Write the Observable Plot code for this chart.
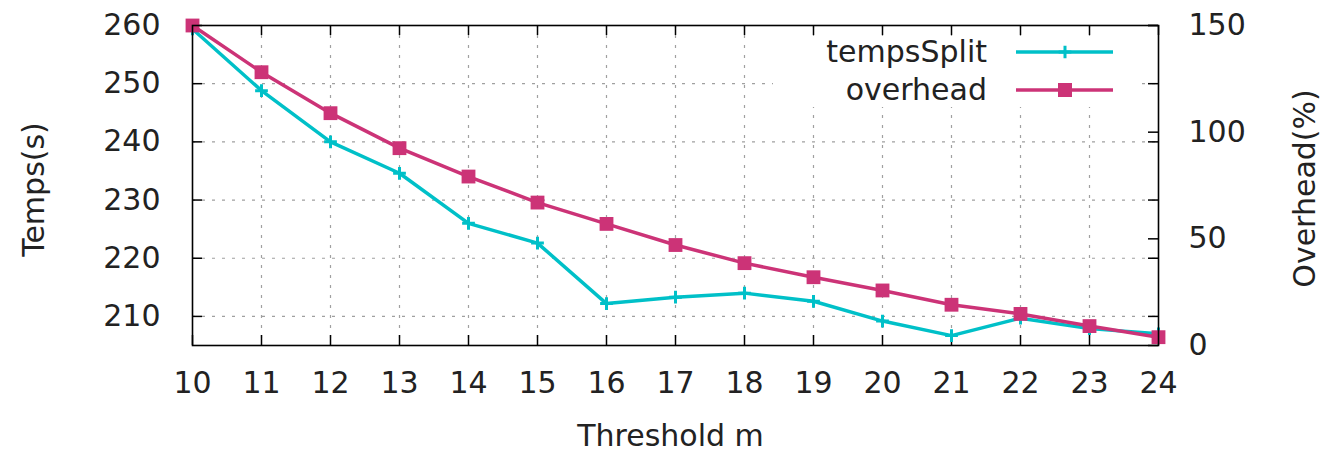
<!DOCTYPE html>
<html>
<head>
<meta charset="utf-8">
<script src="https://cdn.jsdelivr.net/npm/d3@7"></script>
<script src="https://cdn.jsdelivr.net/npm/@observablehq/plot@0.6"></script>
<style>
  html, body { margin: 0; padding: 0; background: #fff; }
  #chart { width: 1326px; height: 451px; }
</style>
</head>
<body>
<div id="chart"></div>
<script>
// ---- Data ----
const thresholds = [10, 11, 12, 13, 14, 15, 16, 17, 18, 19, 20, 21, 22, 23, 24];
const tempsSplit = [259.4, 248.8, 240.0, 234.6, 226.0, 222.6, 212.2, 213.3, 214.0, 212.6, 209.2, 206.7, 209.7, 207.9, 207.0];
const overhead   = [150.0, 128.1, 108.9, 92.5, 79.2, 67.0, 57.0, 47.1, 38.6, 32.0, 25.8, 19.1, 14.8, 9.1, 3.9];
const yTicks  = [210, 220, 230, 240, 250, 260];
const y2Ticks = [0, 50, 100, 150];
const yDomain  = [205, 260];
const y2Domain = [0, 150];
const seriesNames = ["tempsSplit", "overhead"];
const colors = ["#00c0c8", "#cc3377"];

// map the right-axis (overhead %) values into the left y scale
const toY = v => yDomain[0] + (v - y2Domain[0]) * (yDomain[1] - yDomain[0]) / (y2Domain[1] - y2Domain[0]);
const fromY = v => y2Domain[0] + (v - yDomain[0]) * (y2Domain[1] - y2Domain[0]) / (yDomain[1] - yDomain[0]);

const tempsData = thresholds.map((t, i) => ({x: t, y: tempsSplit[i]}));
const overData  = thresholds.map((t, i) => ({x: t, y: toY(overhead[i])}));

const W = 1326, H = 451;
const mL = 192, mR = 168, mT = 25, mB = 106;
const frameW = W - mL - mR, frameH = H - mT - mB;
const tickLen = 10;
const gridStyle = {stroke: "#a0a0a0", strokeOpacity: 1, strokeWidth: 1.2, strokeDasharray: "3,7"};
const font = "'DejaVu Sans', 'Liberation Sans', sans-serif";
const textColor = "#222";
const plusSize = 55;  // d3 symbol area for the "+" markers
const squareR = 7.8;  // Plot dot radius for the square markers (side ≈ 14px)

const titleOpts = {rotate: -90, fontSize: 30, fill: textColor, textAnchor: "middle", lineAnchor: "middle"};

const chart = Plot.plot({
  width: W,
  height: H,
  marginLeft: mL,
  marginRight: mR,
  marginTop: mT,
  marginBottom: mB,
  style: {fontFamily: font, fontSize: "30px", color: textColor, background: "white", overflow: "visible"},
  x: {domain: [thresholds[0], thresholds[thresholds.length - 1]]},
  y: {domain: yDomain},
  marks: [
    Plot.gridX(thresholds.slice(1, -1), gridStyle),
    Plot.gridY(yTicks.slice(0, -1), gridStyle),
    // inward ticks
    Plot.tickX(thresholds, {x: d => d, insetTop: frameH - tickLen, stroke: "black", strokeWidth: 1.5}),
    Plot.tickX(thresholds, {x: d => d, insetBottom: frameH - tickLen, stroke: "black", strokeWidth: 1.5}),
    Plot.tickY(yTicks, {y: d => d, insetRight: frameW - tickLen, stroke: "black", strokeWidth: 1.5}),
    Plot.tickY(yTicks, {y: d => d, insetLeft: frameW - tickLen, stroke: "black", strokeWidth: 1.5}),
    Plot.tickY(y2Ticks.map(toY), {y: d => d, insetLeft: frameW - tickLen, stroke: "black", strokeWidth: 1.5}),
    // tick labels
    Plot.axisX(thresholds, {tickSize: 0, tickPadding: 26, label: null, fontSize: 30, fill: textColor}),
    Plot.axisY(yTicks, {tickSize: 0, tickPadding: 32, label: null, fontSize: 30, fill: textColor}),
    Plot.axisY(y2Ticks.map(toY), {anchor: "right", tickSize: 0, tickPadding: 30, label: null,
      tickFormat: v => String(Math.round(fromY(v))), fontSize: 30, fill: textColor}),
    // axis titles
    Plot.text(["Temps(s)"], {frameAnchor: "left", dx: -158, dy: 4, ...titleOpts}),
    Plot.text(["Overhead(%)"], {frameAnchor: "right", dx: 147, dy: 3, ...titleOpts}),
    Plot.text(["Threshold m"], {frameAnchor: "bottom", dx: -5, dy: 91, fontSize: 30, fill: textColor,
      textAnchor: "middle", lineAnchor: "middle"}),
    // series
    Plot.line(tempsData, {x: "x", y: "y", stroke: colors[0], strokeWidth: 3.5}),
    Plot.dot(tempsData, {x: "x", y: "y", symbol: "plus", r: Math.sqrt(plusSize / Math.PI), stroke: colors[0], strokeWidth: 3}),
    Plot.line(overData, {x: "x", y: "y", stroke: colors[1], strokeWidth: 3.5}),
    Plot.dot(overData, {x: "x", y: "y", symbol: "square", r: squareR, fill: colors[1]}),
    Plot.frame({stroke: "black", strokeWidth: 1.6})
  ]
});

document.getElementById("chart").appendChild(chart);

// ---- Legend (gnuplot-style key, top right, opaque box) ----
const svg = d3.select(chart);
const key = svg.append("g").attr("class", "key");
key.append("rect")
  .attr("x", 773).attr("y", 36).attr("width", 362).attr("height", 71)
  .attr("fill", "white");
const rows = [
  {name: seriesNames[0], color: colors[0], baseline: 62, lineY: 52, marker: "plus"},
  {name: seriesNames[1], color: colors[1], baseline: 100, lineY: 90, marker: "square"}
];
rows.forEach(r => {
  key.append("text")
    .attr("x", 987).attr("y", r.baseline)
    .attr("text-anchor", "end")
    .attr("font-family", font).attr("font-size", 30)
    .attr("fill", textColor)
    .text(r.name);
  key.append("line")
    .attr("x1", 1016).attr("x2", 1113)
    .attr("y1", r.lineY).attr("y2", r.lineY)
    .attr("stroke", r.color).attr("stroke-width", 3.5);
  if (r.marker === "plus") {
    key.append("path")
      .attr("d", d3.symbol(d3.symbolPlus, plusSize)())
      .attr("transform", `translate(1065,${r.lineY})`)
      .attr("fill", "none").attr("stroke", r.color).attr("stroke-width", 3);
  } else {
    key.append("rect")
      .attr("x", 1058).attr("y", r.lineY - 7).attr("width", 14).attr("height", 14)
      .attr("fill", r.color);
  }
});
</script>
</body>
</html>
